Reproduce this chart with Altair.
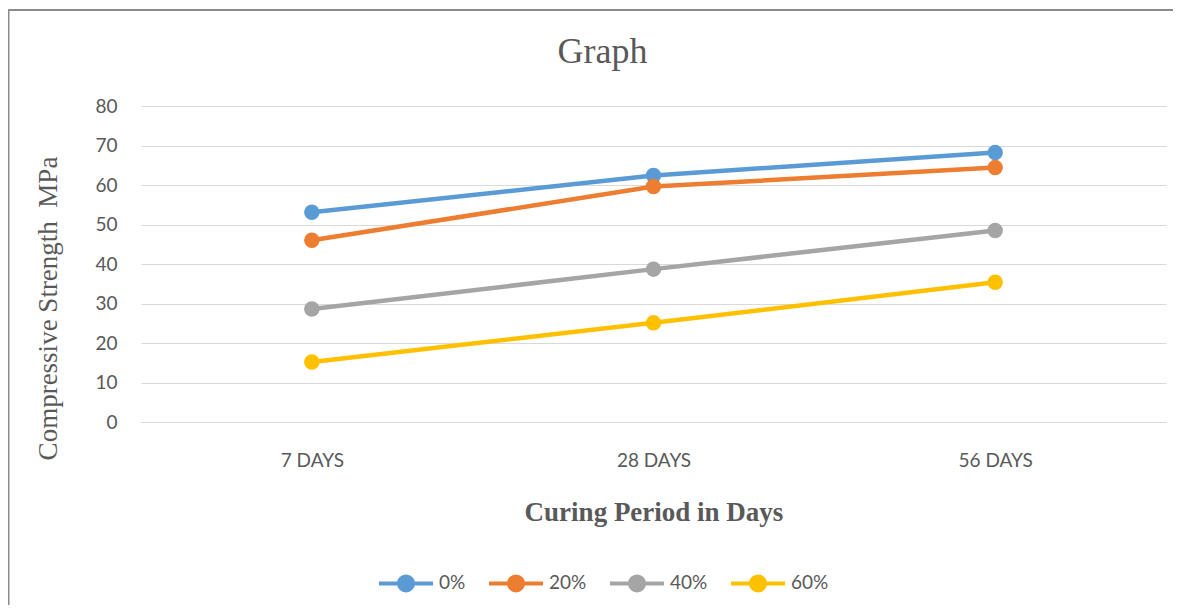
import altair as alt
import pandas as pd

periods = ["7 DAYS", "28 DAYS", "56 DAYS"]
series = ["0%", "20%", "40%", "60%"]
s0 = [53.1, 62.4, 68.2]
s20 = [46.0, 59.6, 64.4]
s40 = [28.6, 38.7, 48.5]
s60 = [15.2, 25.1, 35.4]
colors = ["#5B9BD5", "#ED7D31", "#A5A5A5", "#FFC000"]
y_ticks = [0, 10, 20, 30, 40, 50, 60, 70, 80]

rows = []
for name, vals in zip(series, [s0, s20, s40, s60]):
    for p, v in zip(periods, vals):
        rows.append({"period": p, "series": name, "value": v})
df = pd.DataFrame(rows)

W, H = 1025, 316
PL, PT, PR = 133, 98, 7

x = alt.X("period:N", sort=periods,
          scale=alt.Scale(type="point", padding=0.5),
          axis=alt.Axis(title="Curing Period in Days", labelAngle=0, ticks=False,
                        grid=False, domainColor="#D9D9D9", domainWidth=1,
                        labelPadding=29, labelFont="Lato", labelFontSize=19,
                        labelColor="#595959", labelBaseline="top",
                        titleFont="Liberation Serif", titleFontSize=27,
                        titleFontWeight="bold", titleColor="#595959",
                        titleBaseline="alphabetic", titleY=98, titleX=W / 2))
y = alt.Y("value:Q", scale=alt.Scale(domain=[0, 80], nice=False),
          axis=alt.Axis(title="Compressive Strength\u00a0 MPa", values=y_ticks,
                        ticks=False, domain=False, gridColor="#D9D9D9",
                        gridWidth=1, labelPadding=24, labelFont="Lato",
                        labelFontSize=19, labelColor="#595959",
                        titleFont="Liberation Serif", titleFontSize=27,
                        titleFontWeight="normal", titleColor="#595959",
                        titleAngle=-90, titleBaseline="alphabetic",
                        titleAlign="center", titleX=-85, titleY=202))

legend_path = ("M-1,0L1,0M-0.26,0A0.26,0.26,0,1,0,0.26,0"
               "A0.26,0.26,0,1,0,-0.26,0Z")
color = alt.Color("series:N", sort=series,
                  scale=alt.Scale(domain=series, range=colors),
                  legend=alt.Legend(title=None, orient="none", direction="horizontal",
                                    legendX=236, legendY=448,
                                    symbolType=legend_path, symbolSize=2916,
                                    symbolStrokeWidth=4, symbolOpacity=1,
                                    labelFont="Lato", labelFontSize=19,
                                    labelColor="#595959", labelOffset=4,
                                    columnPadding=15, padding=0))

base = alt.Chart(df).encode(x=x, y=y, color=color)
lines = base.mark_line(strokeWidth=4.5)
points = base.mark_circle(size=240, opacity=1)

frame_df = pd.DataFrame({"a": [0]})
frame_top = alt.Chart(frame_df).mark_rule(color="#8C8C8C", strokeWidth=2).encode(
    x=alt.value(-133.5), x2=alt.value(W + PR), y=alt.value(-96))
frame_left = alt.Chart(frame_df).mark_rule(color="#8C8C8C", strokeWidth=2).encode(
    x=alt.value(-132.5), y=alt.value(-97), y2=alt.value(H + 183))

chart = alt.layer(frame_top, frame_left, lines, points).properties(
    width=W, height=H,
    title=alt.TitleParams("Graph", font="Liberation Serif", fontSize=36,
                          fontWeight="normal", color="#595959",
                          anchor="middle", dx=-51, offset=0, dy=91,
                          baseline="alphabetic"),
    autosize=alt.AutoSizeParams(type="none"),
    padding={"left": PL, "top": PT, "right": PR, "bottom": 183},
).configure_view(stroke=None)

chart.save("out.html", embed_options={"renderer": "svg", "actions": False})
